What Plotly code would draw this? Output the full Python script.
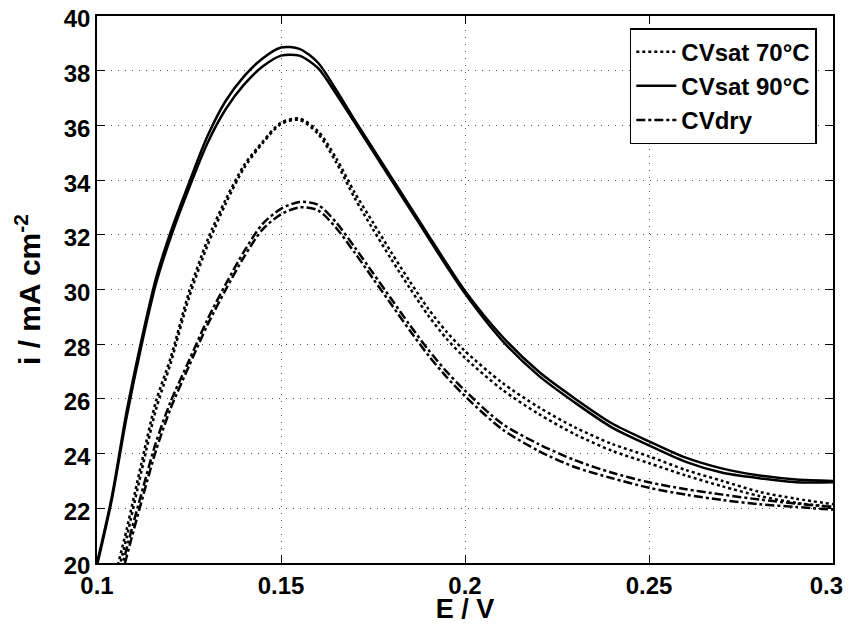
import plotly.graph_objects as go

# Potential grid (V)
E = [0.100, 0.104, 0.108, 0.112, 0.116, 0.120, 0.125, 0.130, 0.135, 0.140,
     0.145, 0.150, 0.155, 0.160, 0.165, 0.170, 0.175, 0.180, 0.185, 0.190,
     0.195, 0.200, 0.210, 0.220, 0.230, 0.240, 0.250, 0.260, 0.270, 0.280,
     0.290, 0.300]

# CVsat 70°C (two scans)
sat70_a = [16.5, 19.0, 21.2, 23.6, 25.9, 27.5, 29.9, 31.8, 33.3, 34.55,
           35.4, 36.1, 36.25, 35.8, 34.8, 33.55, 32.45, 31.35, 30.3, 29.3,
           28.45, 27.75, 26.6, 25.7, 24.95, 24.35, 23.9, 23.4, 23.0, 22.6,
           22.35, 22.15]
sat70_b = [16.2, 18.7, 20.9, 23.3, 25.6, 27.3, 29.7, 31.6, 33.15, 34.45,
           35.35, 36.05, 36.2, 35.7, 34.65, 33.35, 32.2, 31.1, 30.05, 29.05,
           28.2, 27.5, 26.35, 25.45, 24.7, 24.1, 23.65, 23.2, 22.8, 22.45,
           22.2, 22.05]

# CVsat 90°C (two scans)
sat90_a = [20.0, 22.4, 25.5, 28.1, 30.4, 32.1, 33.9, 35.6, 36.9, 37.8,
           38.45, 38.85, 38.8, 38.3, 37.3, 36.2, 35.15, 34.1, 33.05, 32.0,
           30.95, 29.95, 28.3, 27.0, 26.0, 25.1, 24.45, 23.85, 23.45, 23.2,
           23.05, 23.0]
sat90_b = [19.9, 22.3, 25.3, 27.9, 30.2, 31.9, 33.7, 35.35, 36.6, 37.5,
           38.15, 38.55, 38.55, 38.1, 37.15, 36.1, 35.05, 34.0, 32.95, 31.9,
           30.85, 29.85, 28.15, 26.85, 25.85, 24.95, 24.3, 23.7, 23.3, 23.1,
           22.95, 22.95]

# CVdry (two scans)
dry_a = [15.8, 18.3, 20.5, 22.5, 24.4, 25.9, 27.4, 28.9, 30.2, 31.4,
         32.4, 32.95, 33.2, 33.1, 32.45, 31.55, 30.6, 29.65, 28.7, 27.8,
         27.0, 26.3, 25.1, 24.35, 23.75, 23.3, 22.95, 22.7, 22.5, 22.32,
         22.17, 22.05]
dry_b = [15.5, 18.0, 20.2, 22.2, 24.1, 25.65, 27.2, 28.7, 30.0, 31.2,
         32.2, 32.75, 33.0, 32.9, 32.25, 31.35, 30.4, 29.45, 28.5, 27.6,
         26.8, 26.1, 24.9, 24.1, 23.5, 23.1, 22.75, 22.5, 22.3, 22.15,
         22.05, 21.95]

x_ticks = [0.1, 0.15, 0.2, 0.25, 0.3]
# trailing no-break spaces keep the last label inside the visible page
x_ticktext = ["0.1", "0.15", "0.2", "0.25", "0.3\u00a0\u00a0"]
y_ticks = [20, 22, 24, 26, 28, 30, 32, 34, 36, 38, 40]

FONT = "Arial, Liberation Sans, Helvetica, sans-serif"

series = [
    ("CVsat 70°C", [sat70_a, sat70_b], "dot"),
    ("CVsat 90°C", [sat90_a, sat90_b], "solid"),
    ("CVdry", [dry_a, dry_b], "dashdot"),
]

fig = go.Figure()
for name, curves, dash in series:
    for k, ys in enumerate(curves):
        fig.add_trace(go.Scatter(
            x=E, y=ys, mode="lines", name=name, legendgroup=name,
            showlegend=(k == 0),
            line=dict(color="black", width=2.5, dash=dash,
                      shape="spline", smoothing=0.8),
        ))

axis_common = dict(
    showline=True, linecolor="black", linewidth=1.5, mirror="ticks",
    ticks="inside", ticklen=8, tickwidth=1, tickcolor="black",
    showgrid=True, gridcolor="#555555", gridwidth=1, griddash="1px,6px",
    zeroline=False, ticklabeloverflow="allow",
)

fig.update_xaxes(
    range=[0.1, 0.3], tickvals=x_ticks, ticktext=x_ticktext,
    tickfont=dict(family=FONT, size=24, color="black", weight="bold"),
    title=dict(text="<b>E / V</b>", standoff=6,
               font=dict(family=FONT, size=27, color="black")),
    **axis_common,
)
fig.update_yaxes(
    range=[20, 40], tickvals=y_ticks, ticklabelshift=3,
    tickfont=dict(family=FONT, size=24, color="black", weight="bold"),
    title=dict(text="<b>i / mA cm<sup>-2</sup></b>", standoff=14,
               font=dict(family=FONT, size=30, color="black")),
    **axis_common,
)

# page body adds an 8px offset; plot area is placed to match the reference
fig.update_layout(
    width=854, height=616,
    margin=dict(l=89, r=29, t=8, b=61, autoexpand=False),
    paper_bgcolor="white", plot_bgcolor="white",
    showlegend=True,
    legend=dict(
        x=0.978, y=0.978, xanchor="right", yanchor="top",
        bgcolor="white", bordercolor="black", borderwidth=1.5,
        font=dict(family=FONT, size=24, color="black", weight="bold"),
        tracegroupgap=0, itemwidth=40,
    ),
)

fig.write_html("out.html")
